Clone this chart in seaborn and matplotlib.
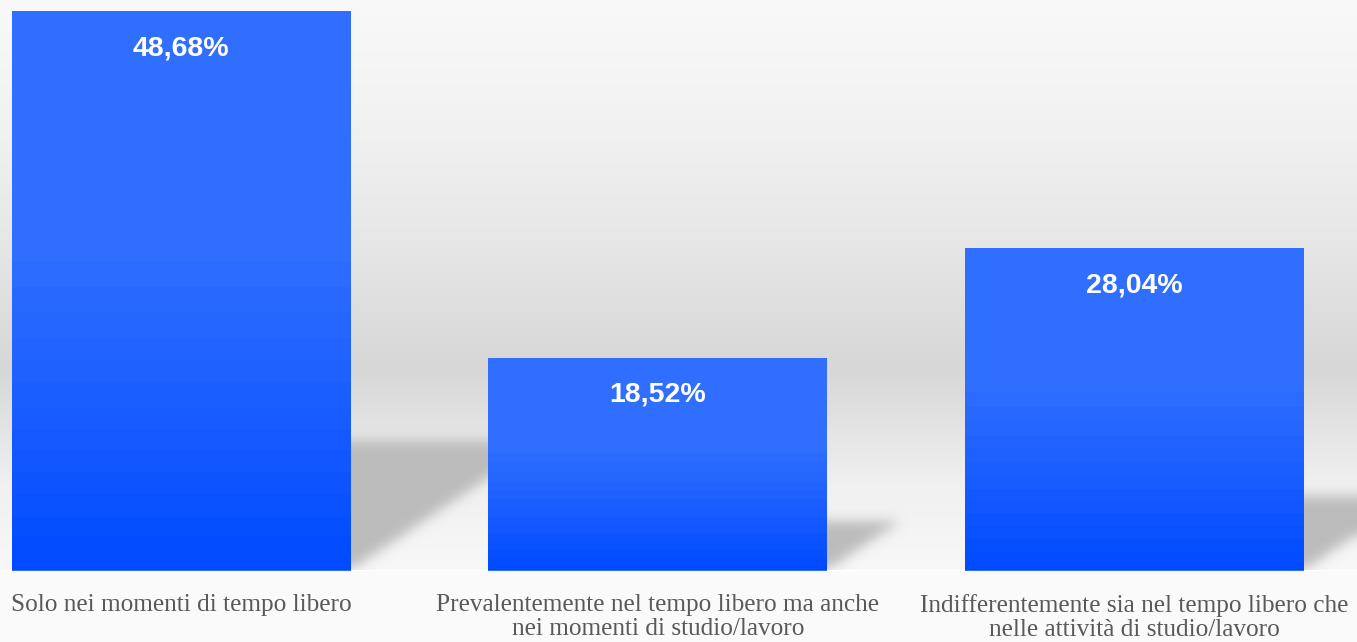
import numpy as np
import pandas as pd
import matplotlib
matplotlib.use("Agg")
import matplotlib.pyplot as plt
import seaborn as sns

# --- data -------------------------------------------------------------
categories = [
    "Solo nei momenti di tempo libero",
    "Prevalentemente nel tempo libero ma anche\nnei momenti di studio/lavoro",
    "Indifferentemente sia nel tempo libero che\nnelle attività di studio/lavoro",
]
values = [48.68, 18.52, 28.04]

# --- styling ----------------------------------------------------------
BAR_TOP = np.array([48, 110, 255]) / 255
BAR_BOTTOM = np.array([0, 74, 255]) / 255
SHADOW_RGB = np.array([188, 188, 188]) / 255
LABEL_GREY = "#595959"

sns.set_theme(style="white")
plt.rcParams["font.family"] = ["Liberation Sans", "DejaVu Sans"]

W, H, DPI = 1357, 642, 100
PLOT_H = 570.5
fig = plt.figure(figsize=(W / DPI, H / DPI), dpi=DPI, facecolor="#fafafa")
ax = fig.add_axes([0, (H - PLOT_H) / H, 1, PLOT_H / H])

df = pd.DataFrame({"categoria": categories, "percentuale": values})
sns.barplot(data=df, x="categoria", y="percentuale", color=BAR_TOP,
            saturation=1, width=0.711, linewidth=0, edgecolor="none",
            ax=ax, zorder=3)

ymax = max(values) * PLOT_H / 559.5
xlim = (-0.38, 2.467)
ax.set_xlim(*xlim)
ax.set_ylim(0, ymax)

# --- backdrop: soft vertical grey gradient ---------------------------
stops_px = np.array([0, 120, 250, 370, 430, 485, 571])
stops_grey = np.array([249, 242, 230, 215, 228, 240, 248]) / 255
rows = np.arange(571)
grey = np.interp(rows, stops_px, stops_grey)
bg = np.repeat(grey[:, None, None], 3, axis=2)
ax.imshow(bg, extent=(xlim[0], xlim[1], 0, ymax), aspect="auto",
          origin="upper", zorder=0, interpolation="bilinear")

# --- floor shadows cast by the bars ----------------------------------
def gaussian_blur(img, sigma):
    r = int(3 * sigma)
    k = np.exp(-0.5 * (np.arange(-r, r + 1) / sigma) ** 2)
    k /= k.sum()
    pad = np.pad(img, r, mode="edge")
    out = np.apply_along_axis(lambda m: np.convolve(m, k, mode="same"), 1, pad)
    out = np.apply_along_axis(lambda m: np.convolve(m, k, mode="same"), 0, out)
    return out[r:-r, r:-r]

bbox = ax.get_window_extent()
nx, ny = int(round(bbox.width)), int(round(bbox.height))
gx = np.arange(nx) + 0.5
gu = np.arange(ny) + 0.5
X, U = np.meshgrid(gx, gu)  # U: height above axes bottom, in pixels
mask = np.zeros((ny, nx))
slope = 0.67
for patch in ax.patches:
    x0d, x1d = patch.get_x(), patch.get_x() + patch.get_width()
    (px0, py0), (px1, py1) = ax.transData.transform([(x0d, 0), (x1d, patch.get_height())])
    px0 -= bbox.x0
    px1 -= bbox.x0
    h_px = py1 - py0
    s = 0.23 * h_px
    inside = (U >= 2) & (U <= s) & (X >= px0 + U / slope) & (X <= px1 + U / slope)
    mask = np.maximum(mask, inside.astype(float))
mask = gaussian_blur(mask, 6.0)
shadow = np.zeros((ny, nx, 4))
shadow[..., :3] = SHADOW_RGB
shadow[..., 3] = np.clip(mask, 0, 1)
ax.imshow(shadow, extent=(xlim[0], xlim[1], 0, ymax), aspect="auto",
          origin="lower", zorder=1, interpolation="bilinear")

# --- bars: vertical blue gradient clipped to each bar ----------------
for patch, v in zip(ax.patches, values):
    x0, w, h = patch.get_x(), patch.get_width(), patch.get_height()
    t = np.linspace(0, 1, 200)
    f = np.clip((t - 0.42) / 0.58, 0, 1) ** 1.1
    f = np.round(f * 14) / 14
    cols = BAR_TOP[None, :] * (1 - f[:, None]) + BAR_BOTTOM[None, :] * f[:, None]
    im = ax.imshow(cols[:, None, :], extent=(x0, x0 + w, 0, h), aspect="auto",
                   origin="upper", zorder=4, interpolation="nearest")
    im.set_clip_path(patch)
    label = f"{v:.2f}".replace(".", ",") + "%"
    ax.annotate(label, xy=(x0 + w / 2, h), xytext=(0, -37 * 72 / DPI),
                textcoords="offset points", ha="center", va="center",
                color="white", fontsize=20.5, fontweight="bold", zorder=6)

ax.set_xlim(*xlim)
ax.set_ylim(0, ymax)

# --- axes cosmetics ---------------------------------------------------
ax.set_xlabel("")
ax.set_ylabel("")
ax.set_yticks([])
for sp in ax.spines.values():
    sp.set_visible(False)
ax.tick_params(axis="x", length=0, pad=17, labelsize=18.2, labelcolor=LABEL_GREY)
for lbl in ax.get_xticklabels():
    lbl.set_fontfamily(["Liberation Serif", "DejaVu Serif"])
    lbl.set_linespacing(1.12)

fig.savefig("out.png", dpi=DPI, facecolor=fig.get_facecolor())
